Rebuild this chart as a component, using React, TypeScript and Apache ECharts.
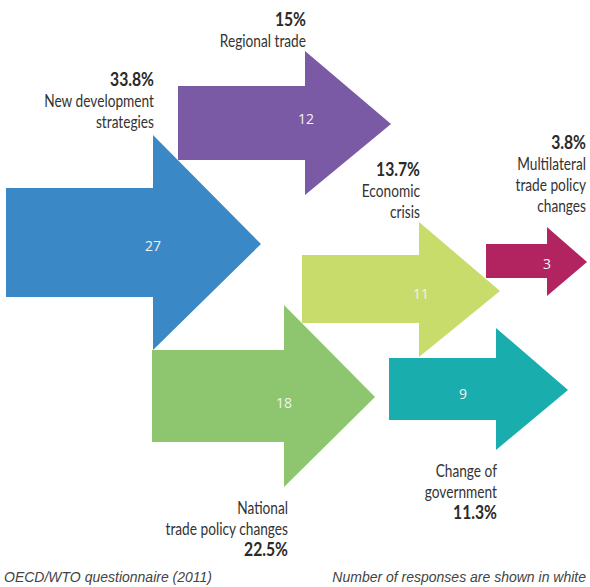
import React, { useEffect, useRef } from "react";
import * as echarts from "echarts";

// ---- data ----
const categories = [
  "New development\nstrategies",
  "Regional trade",
  "Economic\ncrisis",
  "Multilateral\ntrade policy\nchanges",
  "National\ntrade policy changes",
  "Change of\ngovernment",
];
const responses = [27, 12, 11, 3, 18, 9];
const shares = ["33.8%", "15%", "13.7%", "3.8%", "22.5%", "11.3%"];
const colors = ["#3a89c6", "#7a5aa4", "#c8dc6c", "#b2245f", "#8dc66f", "#1aadae"];
const footerLeft = "OECD/WTO questionnaire (2011)";
const footerRight = "Number of responses are shown in white";

// ---- layout (chart coordinates, y downward) ----
// [bodyLeft, bodyTop, bodyBottom, headBaseX, headTop, headBottom, tipX, tipY, valueX, valueY]
const arrowLayout: number[][] = [
  [6, 188, 297, 153, 135, 350, 261, 244, 153, 245],
  [178, 86, 160, 305, 51, 195, 391, 124, 306, 118],
  [302, 255, 323, 419, 222, 357, 500, 291, 421, 293],
  [486, 244, 278, 547, 227, 296, 587, 262, 547, 263],
  [152, 350, 442, 284, 305, 487, 375, 397, 284, 402],
  [389, 358, 420, 496, 328, 450, 568, 390, 463, 393],
];
// [rightX, firstLineCenterY, shareFirst(1) / shareLast(0)]
const labelLayout: number[][] = [
  [154, 79, 1],
  [306, 19, 1],
  [420, 169, 1],
  [586, 142, 1],
  [288, 507, 0],
  [497, 470, 0],
];

const LABEL_FONT = 'Lato, "Open Sans", sans-serif';
const NAME_FONT = "17px " + LABEL_FONT;
const SHARE_FONT = "bold 18px " + LABEL_FONT;
const LINE_H = 21;

function measure(font: string, text: string): number {
  const cv = document.createElement("canvas");
  const ctx = cv.getContext("2d");
  if (!ctx) return 0;
  ctx.font = font;
  return ctx.measureText(text).width;
}

export default function App() {
  const ref = useRef<HTMLDivElement>(null);
  useEffect(() => {
    if (!ref.current) return;
    // condense the text to the narrow face of the original
    const wName = measure(NAME_FONT, "trade policy changes");
    const wShare = measure(SHARE_FONT, "22.5%");
    const sxName = wName > 0 ? 123 / wName : 1;
    const sxShare = wShare > 0 ? 44 / wShare : 1;

    const chart = echarts.init(ref.current, undefined, { renderer: "svg" });
    const data = responses.map((v, i) => [i, v]);
    chart.setOption({
      animation: false,
      backgroundColor: "#ffffff",
      grid: { left: 0, top: 0, right: 0, bottom: 0 },
      xAxis: { type: "value", min: 0, max: 590, show: false },
      yAxis: { type: "value", min: 0, max: 587, inverse: true, show: false },
      series: [
        {
          type: "custom",
          coordinateSystem: "cartesian2d",
          data,
          renderItem: (params: any, api: any) => {
            const i = api.value(0);
            const L = arrowLayout[i];
            const c = (x: number, y: number) => api.coord([x, y]);
            const pts = [
              c(L[0], L[1]),
              c(L[3], L[1]),
              c(L[3], L[4]),
              c(L[6], L[7]),
              c(L[3], L[5]),
              c(L[3], L[2]),
              c(L[0], L[2]),
            ];
            const vp = c(L[8], L[9]);
            const lab = labelLayout[i];
            const lp = c(lab[0], lab[1]);
            const nameLines = categories[i].split("\n").length;
            const shareFirst = lab[2] === 1;
            const shareY = shareFirst ? lp[1] : lp[1] + nameLines * LINE_H;
            const nameY = shareFirst ? lp[1] + LINE_H : lp[1];
            return {
              type: "group",
              children: [
                {
                  type: "polygon",
                  shape: { points: pts },
                  style: { fill: colors[i] },
                },
                {
                  type: "text",
                  style: {
                    text: String(api.value(1)),
                    x: vp[0],
                    y: vp[1],
                    align: "center",
                    verticalAlign: "middle",
                    fill: "#f2f2f2",
                    font: '14px "Open Sans", sans-serif',
                  },
                },
                {
                  type: "text",
                  x: lp[0],
                  y: shareY,
                  scaleX: sxShare,
                  style: {
                    text: shares[i],
                    x: 0,
                    y: 0,
                    align: "right",
                    verticalAlign: "middle",
                    fill: "#2a2a2a",
                    font: SHARE_FONT,
                  },
                },
                {
                  type: "text",
                  x: lp[0],
                  y: nameY - LINE_H / 2,
                  scaleX: sxName,
                  style: {
                    text: categories[i],
                    x: 0,
                    y: 0,
                    align: "right",
                    verticalAlign: "top",
                    lineHeight: LINE_H,
                    fill: "#333333",
                    font: NAME_FONT,
                  },
                },
              ],
            };
          },
        },
      ],
      graphic: [
        {
          type: "text",
          left: 4,
          top: 570,
          style: {
            text: footerLeft,
            fill: "#444444",
            font: 'italic 14px "Liberation Sans", Arial, sans-serif',
          },
        },
        {
          type: "text",
          right: 4,
          top: 570,
          style: {
            text: footerRight,
            fill: "#444444",
            font: 'italic 14px "Liberation Sans", Arial, sans-serif',
          },
        },
      ],
    });
    return () => chart.dispose();
  }, []);
  return (
    <div
      ref={ref}
      style={{ position: "fixed", left: 0, top: 0, width: 590, height: 587 }}
    />
  );
}
